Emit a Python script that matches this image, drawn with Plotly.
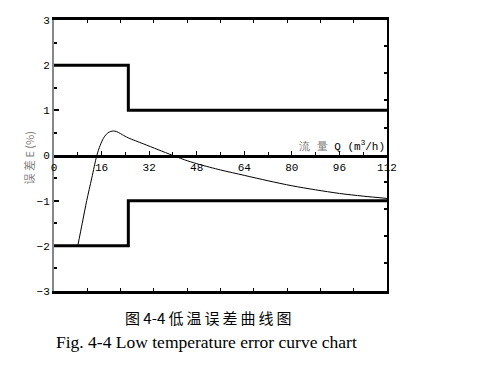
import plotly.graph_objects as go

# ---- data ----
flow_q = [8, 9.5, 11, 12.7, 14.4, 15.5, 16.6, 17.6, 18.6, 19.6, 20.5, 21.7, 23, 25,
          30, 35, 40, 45, 49, 56, 64, 72, 80, 88, 96, 104, 112]
error_e = [-2.0, -1.5, -1.0, -0.5, 0.0, 0.22, 0.38, 0.47, 0.52, 0.54, 0.54, 0.51, 0.46, 0.39,
           0.26, 0.13, 0.0, -0.12, -0.2, -0.32, -0.44, -0.56, -0.67, -0.76, -0.84, -0.9, -0.95]
limit_q = [0, 25, 112]
upper_limit = [2, 1, 1]
lower_limit = [-2, -1, -1]
x_ticks = [0, 16, 32, 48, 64, 80, 96, 112]
y_ticks = [-3, -2, -1, 0, 1, 2, 3]
frame_ticks = [11.2 * i for i in range(1, 10)]
right_ticks = [2.42, 1.82, 1.22, 0.62, -0.58, -1.18, -1.78, -2.38]

mono = "Liberation Mono"
cjk = "Noto Sans CJK SC"

fig = go.Figure()
fig.add_trace(go.Scatter(x=limit_q, y=upper_limit, mode="lines", line=dict(color="black", width=3, shape="hv"),
                         showlegend=False, hoverinfo="skip"))
fig.add_trace(go.Scatter(x=limit_q, y=lower_limit, mode="lines", line=dict(color="black", width=3, shape="hv"),
                         showlegend=False, hoverinfo="skip"))
fig.add_trace(go.Scatter(x=flow_q, y=error_e, mode="lines", line=dict(color="black", width=1, shape="spline", smoothing=0.8),
                         showlegend=False))
# frame axes helpers
fig.add_trace(go.Scatter(x=[None], y=[None], xaxis="x2", yaxis="y", showlegend=False, hoverinfo="skip"))
fig.add_trace(go.Scatter(x=[None], y=[None], xaxis="x3", yaxis="y2", showlegend=False, hoverinfo="skip"))

# the page body has an 8px margin, so the figure is sized to fit the window
fig.update_layout(
    width=473, height=358,
    margin=dict(l=46, r=94, t=12, b=75),
    paper_bgcolor="white", plot_bgcolor="white",
    xaxis=dict(range=[0, 112], anchor="free", position=0.5, side="bottom", automargin=False,
               tickvals=x_ticks, ticktext=[str(v) for v in x_ticks],
               ticks="inside", ticklen=4, tickwidth=1, tickcolor="black",
               minor=dict(dtick=8, tick0=0, ticks="inside", ticklen=3, tickcolor="black"),
               showline=True, linecolor="black", linewidth=3,
               showgrid=False, zeroline=False,
               tickfont=dict(family=mono, size=11, color="black")),
    xaxis2=dict(range=[0, 112], overlaying="x", anchor="y", side="top", automargin=False,
                tickvals=frame_ticks, ticks="inside", ticklen=3, tickcolor="black",
                showticklabels=False, showline=True, linecolor="black", linewidth=3,
                showgrid=False, zeroline=False),
    xaxis3=dict(range=[0, 112], overlaying="x", anchor="y", side="bottom", automargin=False,
                tickvals=frame_ticks, ticks="inside", ticklen=3, tickcolor="black",
                showticklabels=False, showline=True, linecolor="black", linewidth=3,
                showgrid=False, zeroline=False),
    yaxis=dict(range=[-3, 3], tickvals=y_ticks, ticks="inside", ticklen=5, tickwidth=2, tickcolor="black",
               automargin=False,
               minor=dict(dtick=0.5, tick0=0, ticks="inside", ticklen=3, tickwidth=2, tickcolor="black"),
               showline=True, linecolor="#888888", linewidth=2,
               showgrid=False, zeroline=False,
               tickfont=dict(family=mono, size=11, color="black")),
    yaxis2=dict(range=[-3, 3], overlaying="y", anchor="x", side="right", automargin=False,
                tickvals=right_ticks, ticks="inside", ticklen=3, tickwidth=2, tickcolor="black",
                showticklabels=False, showline=True, linecolor="black", linewidth=1.5,
                showgrid=False, zeroline=False),
)

fig.add_annotation(xref="paper", yref="paper", x=0, y=0.5, xshift=-36, yshift=-3, text="误 差 E (%)",
                   textangle=-90, showarrow=False,
                   font=dict(family=cjk, size=11, color="#808080"))
fig.add_annotation(xref="paper", yref="paper", x=1, y=0.5, xanchor="right", yanchor="bottom", yshift=1,
                   text="<span style='color:#777777'>流 量</span> Q (m<sup>3</sup>/h)", showarrow=False,
                   font=dict(family=mono, size=11, color="black"))
fig.add_annotation(xref="paper", yref="paper", x=0.465, y=0, yshift=-26, yanchor="middle",
                   text="图 4-4 低\u2009温\u2009误\u2009差\u2009曲\u2009线\u2009图", showarrow=False,
                   font=dict(family=cjk, size=15, color="black"))
fig.add_annotation(xref="paper", yref="paper", x=0.458, y=0, yshift=-51, yanchor="middle",
                   text="Fig. 4-4 Low temperature error curve chart", showarrow=False,
                   font=dict(family="Liberation Serif", size=17.5, color="black"))

fig.write_html("out.html")
